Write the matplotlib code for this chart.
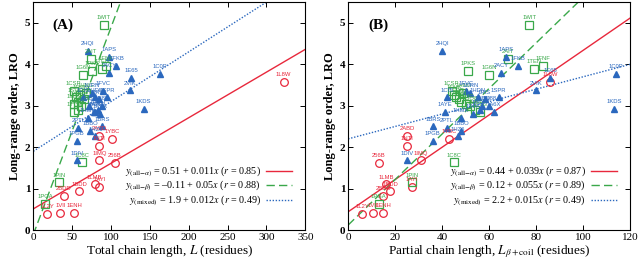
import matplotlib.pyplot as plt
import numpy as np

plt.rcParams['font.family'] = ['Liberation Serif', 'DejaVu Serif']
plt.rcParams['mathtext.fontset'] = 'stix'

red = '#e8283c'
green = '#3aa84a'
blue = '#2b68be'

# all-alpha proteins: name, total length L, beta+coil length, LRO
alpha_names = ['1L8W', '2ABD', '1YBC', '1NTI', '1IMQ', '256B', '1LMB', '1AYI',
               '1BDD', '2BDD', '1L2Y', '1VII', '1ENH']
alpha_L = [322, 85, 101, 85, 85, 105, 79, 85, 59, 39, 18, 35, 53]
alpha_Lb = [86, 25, 43, 25, 31, 13, 16, 27, 18, 15, 6, 10.6, 15]
alpha_lro = [3.58, 2.28, 2.19, 2.03, 1.68, 1.62, 1.1, 1.04, 0.93, 0.82, 0.38, 0.42, 0.42]

# all-beta proteins
beta_names = ['1WIT', '2AIT', '1PKS', '1G6N', '1TEN', '1FNF', '1CSP', '1SHG',
              '1SRL', '1MJC', '1FMK', '1JO8', '1MSF', '1BFN', '1TTG', '1HNG',
              '1C8C', '1PIN', '1PGA']
beta_L = [91, 74, 76, 64, 89, 94, 52, 55, 58, 53, 60, 62, 57, 65, 52, 68,
          63, 33, 15]
beta_Lb = [77, 68, 51, 60, 79, 83, 44, 46, 48, 50, 45, 52, 54, 47, 56, 49,
           45, 27, 13]
beta_lro = [4.95, 4.12, 3.83, 3.75, 3.88, 3.96, 3.35, 3.2, 3.1, 3.05, 3.25,
            3.0, 2.9, 3.15, 2.85, 3.3, 1.63, 1.15, 0.62]

# mixed proteins
mixed_names = ['2HQI', '1APS', '1FKB', '2ACY', '1E65', '1C0P', '2VIK', '1KDS',
               '1CIS', '1AYE', '1BRS', '2PTL', '1PGB', '1DIV', '1HZ6', '1BBO',
               '1URN', '1HDN', '1RIS', '1N88', '1POH', '1A6X', '1FVC', '1UBQ',
               '1RFA', '1SPR', '1HMK']
mixed_L = [70, 98, 107, 98, 126, 163, 125, 142, 64, 80, 89, 58, 56, 56, 80, 73,
           75, 80, 85, 88, 83, 78, 90, 72, 86, 95, 70]
mixed_Lb = [40, 67, 72, 65, 86, 114, 80, 113, 42, 41, 36, 42, 36, 25, 46.5, 48,
            52, 55, 58, 60, 56, 62, 50, 57, 53, 64, 48]
mixed_lro = [4.32, 4.17, 3.96, 3.8, 3.68, 3.77, 3.37, 2.93, 3.2, 2.84, 2.5, 2.47,
             2.14, 1.68, 2.26, 2.4, 3.3, 3.2, 3.15, 3.0, 2.9, 2.85, 3.35, 3.0,
             2.8, 3.2, 2.7]

# fits: intercept, slope, r
fits_A = {'alpha': (0.51, 0.011, 0.85), 'beta': (-0.11, 0.05, 0.88), 'mixed': (1.9, 0.012, 0.49)}
fits_B = {'alpha': (0.44, 0.039, 0.87), 'beta': (0.12, 0.055, 0.89), 'mixed': (2.2, 0.015, 0.49)}


def fmt(v):
    s = '{:g}'.format(abs(v))
    return ('\u2013' if v < 0 else '') + s


def draw_panel(ax, xa, xb, xm, fits, xmax, xticks, tag, xlabel):
    ax.plot(xa, alpha_lro, 'o', mfc='none', mec=red, ms=5.5, mew=0.9, zorder=3)
    ax.plot(xb, beta_lro, 's', mfc='none', mec=green, ms=5.5, mew=0.9, zorder=3)
    ax.plot(xm, mixed_lro, '^', color=blue, ms=4.5, zorder=3)
    for names, xs, ys, c in [(alpha_names, xa, alpha_lro, red),
                             (beta_names, xb, beta_lro, green),
                             (mixed_names, xm, mixed_lro, blue)]:
        for n, x, y in zip(names, xs, ys):
            ax.annotate(n, (x, y), xytext=(0, 3.5), textcoords='offset points',
                        ha='center', va='bottom', fontsize=4.2, color=c,
                        family='Liberation Sans', zorder=4)
    xx = np.linspace(0, xmax, 200)
    handles = []
    labels = []
    styles = {'alpha': dict(color=red, ls='-', lw=1.0),
              'beta': dict(color=green, ls=(0, (6, 3)), lw=1.0),
              'mixed': dict(color=blue, ls=(0, (1, 1.2)), lw=1.0)}
    subs = {'alpha': r'({\rm all}\!-\!\alpha)', 'beta': r'({\rm all}\!-\!\beta)',
            'mixed': r'({\rm mixed})'}
    for k in ['alpha', 'beta', 'mixed']:
        a, b, r = fits[k]
        h, = ax.plot(xx, a + b * xx, zorder=2, **styles[k])
        handles.append(h)
        labels.append(r'$y_{%s}$ = %s + %s$x$ ($r$ = %s)' % (subs[k], fmt(a), fmt(b), fmt(r)))
    ax.legend(handles, labels, loc='lower right', bbox_to_anchor=(0.975, 0.07),
              frameon=False, markerfirst=False, fontsize=7.3, handlelength=2.6,
              labelspacing=0.02, handletextpad=0.5, borderpad=0.1)
    ax.set_xlim(0, xmax)
    ax.set_ylim(0, 5.5)
    ax.set_xticks(xticks)
    ax.set_yticks([0, 1, 2, 3, 4, 5])
    ax.tick_params(direction='in', top=True, right=True, length=3.5, width=0.7,
                   labelsize=8, pad=2)
    for lab in ax.get_yticklabels():
        lab.set_fontweight('bold')
    for s in ax.spines.values():
        s.set_linewidth(0.8)
    ax.set_xlabel(xlabel, fontsize=9.5, labelpad=1)
    ax.set_ylabel('Long-range order, LRO', fontsize=9, fontweight='bold', labelpad=3)
    ax.text(0.07, 0.93, tag, transform=ax.transAxes, fontsize=11,
            fontweight='bold', va='top')


fig = plt.figure(figsize=(6.4, 2.65), dpi=100)
axA = fig.add_axes([0.052, 0.132, 0.425, 0.86])
axB = fig.add_axes([0.544, 0.132, 0.441, 0.86])

draw_panel(axA, alpha_L, beta_L, mixed_L, fits_A, 350, range(0, 351, 50), '(A)',
           r'Total chain length, $L$ (residues)')
draw_panel(axB, alpha_Lb, beta_Lb, mixed_Lb, fits_B, 120, range(0, 121, 20), '(B)',
           r'Partial chain length, $L_{\beta{\rm +coil}}$ (residues)')

fig.savefig('out.png', dpi=100)
